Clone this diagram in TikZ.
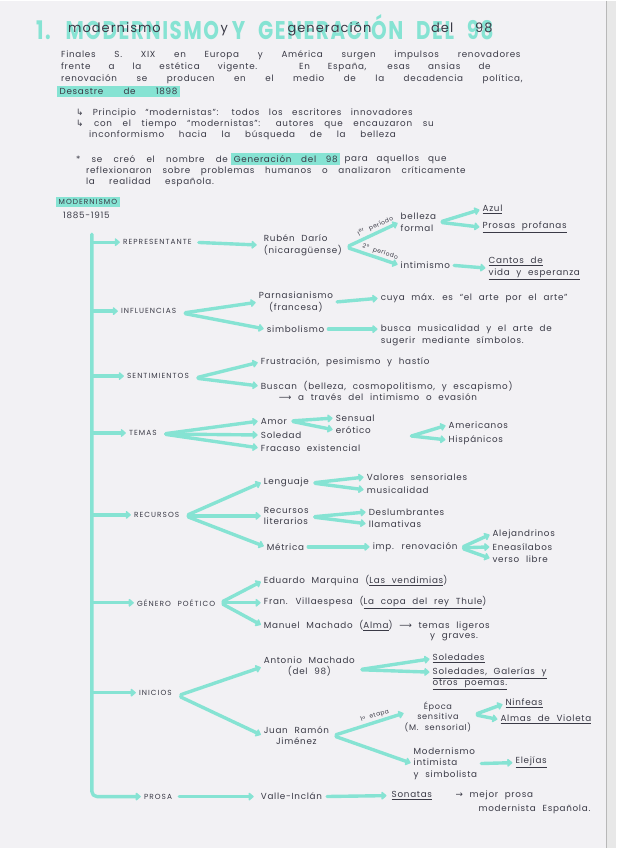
\documentclass[tikz,border=0pt]{standalone}
\usepackage{fontspec}
\setmainfont{Poppins}[LetterSpace=8,WordSpace=2.2]
\newfontfamily\symfont{DejaVu Sans}
\usetikzlibrary{positioning,arrows.meta,calc}
\definecolor{mint}{HTML}{86E3D3}
\definecolor{ink}{HTML}{3A3A46}
\definecolor{paper}{HTML}{F2F1F4}
\newcommand{\txt}{\fontsize{8.8}{11.5}\selectfont}
\newcommand{\capsfnt}{\fontsize{7.4}{8}\selectfont\addfontfeature{LetterSpace=14}}
\newcommand{\tinyfnt}{\fontsize{6}{6.5}\selectfont}
\newcommand{\spread}[2]{\makebox[#1][s]{#2}}

\begin{document}
\begin{tikzpicture}[
    x=1pt, y=-1pt,
    lab/.style={anchor=west, inner sep=1pt, font=\txt, text=ink},
    branchlab/.style={anchor=west, inner sep=1pt, font=\capsfnt, text=ink},
    hlbox/.style={lab, fill=mint, inner sep=2.5pt},
    hl/.style={line width=3.4pt, draw=mint, line cap=round, line join=round},
    hlarrow/.style={hl, -{Triangle[length=5.5pt,width=9pt,round]}, shorten >=2pt, shorten <=3pt},
    steplab/.style={pos=0.6, sloped, above, inner sep=1.5pt, font=\tinyfnt, text=ink}
]
    % Hoja de papel
    \fill[paper] (0,0) rectangle (617,848);
    \fill[black!9] (607,0) rectangle (617,848);
    \draw[black!28, line width=1pt] (607,0) -- (607,848);
    \useasboundingbox (0,0) rectangle (617,848);

    % Titulo
    \node[anchor=west, inner sep=0, text=mint] (title) at (36,27) {\resizebox{458pt}{25pt}{\bfseries 1. MODERNISMO Y GENERACIÓN DEL 98}};
    \node[anchor=west, inner sep=0, text=ink] (titleInk) at (68,29) {\fontsize{13}{14}\selectfont\spread{425pt}{modernismo y generación del\hspace{22pt}98}};

    % Introduccion
    \node[lab] (p1) at (60,55) {\spread{460pt}{Finales S. XIX en Europa y América surgen impulsos renovadores}};
    \node[lab] (p2) at (60,67) {\spread{430pt}{frente a la estética vigente. En España, esas ansias de}};
    \node[lab] (p3) at (60,79) {\spread{462pt}{renovación se producen en el medio de la decadencia política,}};
    \node[hlbox] (p4) at (57,91) {\spread{118pt}{Desastre de 1898}};

    \node[lab] (a1) at (75,113) {\spread{337pt}{{\symfont ↳} Principio “modernistas”: todos los escritores innovadores}};
    \node[lab] (a2) at (75,124) {\spread{358pt}{{\symfont ↳} con el tiempo “modernistas”: autores que encauzaron su}};
    \node[lab] (a3) at (88,135) {\spread{307pt}{inconformismo hacia la búsqueda de la belleza}};

    \node[lab] (s1) at (75,159) {\spread{152pt}{* se creó el nombre de}};
    \node[hlbox, right=2pt of s1] (gen98) {\spread{104pt}{Generación del 98}};
    \node[lab, right=3pt of gen98] (s1b) {\spread{102pt}{para aquellos que}};
    \node[lab] (s2) at (85,171) {\spread{380pt}{reflexionaron sobre problemas humanos o analizaron críticamente}};
    \node[lab] (s3) at (85,182) {\spread{128pt}{la realidad española.}};

    % Modernismo
    \node[hlbox, font=\capsfnt] (mod) at (56,202) {MODERNISMO};
    \node[lab] (years) at (62,215) {1885-1915};

    % Ramas principales
    \node[branchlab] (rep) at (122,242) {REPRESENTANTE};
    \node[branchlab] (inf) at (120,311) {INFLUENCIAS};
    \node[branchlab] (sent) at (126,376) {SENTIMIENTOS};
    \node[branchlab] (temas) at (128,433) {TEMAS};
    \node[branchlab] (rec) at (133,515) {RECURSOS};
    \node[branchlab] (gen) at (136,603) {GÉNERO POÉTICO};
    \node[branchlab] (ini) at (138,693) {INICIOS};
    \node[branchlab] (prosa) at (143,797) {PROSA};

    \coordinate (spTop) at (92,234);
    \coordinate (spBot) at (92,797);
    \draw[hl, rounded corners=5pt, -{Triangle[length=5.5pt,width=9pt,round]}, shorten >=2pt] (spTop) -- (spBot) -- (prosa.west);
    \foreach \b in {rep,inf,sent,temas,rec,gen,ini}
        \draw[hlarrow, shorten <=0pt] (spTop |- \b.west) -- (\b.west);

    % Representante
    \node[lab, align=left] (ruben) at (263,245) {Rubén Darío\\(nicaragüense)};
    \draw[hlarrow, shorten <=6pt, shorten >=6pt] (rep.east) -- (ruben.west);
    \coordinate (fRub) at ($(ruben.east)+(3,2)$);
    \node[lab, align=left] (belleza) at (400,222) {belleza\\formal};
    \node[lab] (intim) at (400,265) {intimismo};
    \draw[hlarrow] (fRub) -- (belleza.west) node[steplab] {1\textsuperscript{er} período};
    \draw[hlarrow] (fRub) -- (intim.west) node[steplab] {2º período};
    \node[lab] (azul) at (482,209) {\underline{Azul}};
    \node[lab] (prosas) at (482,227) {\underline{Prosas profanas}};
    \coordinate (fBel) at ($(belleza.east)+(2,0)$);
    \draw[hlarrow] (fBel) -- (azul.west);
    \draw[hlarrow] (fBel) -- (prosas.west);
    \node[lab, align=left] (cantos) at (488,268) {\underline{Cantos de}\\\underline{vida y esperanza}};
    \draw[hlarrow] (intim.east) -- (cantos.west);

    % Influencias
    \coordinate (fInf) at ($(inf.east)+(5,2)$);
    \node[lab, align=center] (parn) at (258,302) {Parnasianismo\\(francesa)};
    \node[lab] (simb) at (266,329) {simbolismo};
    \draw[hlarrow] (fInf) -- (parn.west);
    \draw[hlarrow] (fInf) -- (simb.west);
    \node[lab] (cuya) at (380,298) {cuya máx. es “el arte por el arte”};
    \node[lab, align=left] (busca) at (380,335) {busca musicalidad y el arte de\\sugerir mediante símbolos.};
    \draw[hlarrow] (parn.east) -- (cuya.west);
    \draw[hlarrow] (simb.east) -- (simb.east -| busca.west);

    % Sentimientos
    \coordinate (fSent) at ($(sent.east)+(5,2)$);
    \node[lab] (frus) at (260,362) {Frustración, pesimismo y hastío};
    \node[lab] (buscan) at (260,386) {Buscan (belleza, cosmopolitismo, y escapismo)};
    \node[lab] (atraves) at (278,397) {{\symfont ⟶} a través del intimismo o evasión};
    \draw[hlarrow] (fSent) -- (frus.west);
    \draw[hlarrow] (fSent) -- (buscan.west);

    % Temas
    \coordinate (fTem) at ($(temas.east)+(5,1)$);
    \node[lab] (amor) at (260,421) {Amor};
    \node[lab] (soledad) at (260,435) {Soledad};
    \node[lab] (fracaso) at (260,448) {Fracaso existencial};
    \foreach \t in {amor,soledad,fracaso}
        \draw[hlarrow] (fTem) -- (\t.west);
    \node[lab] (sensual) at (335,418) {Sensual};
    \node[lab] (erotico) at (335,430) {erótico};
    \coordinate (fAmor) at ($(amor.east)+(2,0)$);
    \draw[hlarrow] (fAmor) -- (sensual.west);
    \draw[hlarrow] (fAmor) -- (erotico.west);
    \coordinate (fAm) at (412,436);
    \node[lab] (americ) at (448,425) {Americanos};
    \node[lab] (hispan) at (448,440) {Hispánicos};
    \draw[hlarrow, shorten <=0pt] (fAm) -- (americ.west);
    \draw[hlarrow, shorten <=0pt] (fAm) -- (hispan.west);

    % Recursos
    \coordinate (fRec) at ($(rec.east)+(5,1)$);
    \node[lab] (lenguaje) at (263,482) {Lenguaje};
    \node[lab, align=left] (reclit) at (263,516) {Recursos\\literarios};
    \node[lab] (metrica) at (266,547) {Métrica};
    \foreach \t in {lenguaje,reclit,metrica}
        \draw[hlarrow] (fRec) -- (\t.west);
    \node[lab] (valores) at (366,477) {Valores sensoriales};
    \node[lab] (musical) at (366,490) {musicalidad};
    \coordinate (fLen) at ($(lenguaje.east)+(2,1)$);
    \draw[hlarrow] (fLen) -- (valores.west);
    \draw[hlarrow] (fLen) -- (musical.west);
    \node[lab] (deslum) at (368,512) {Deslumbrantes};
    \node[lab] (llamat) at (368,524) {llamativas};
    \coordinate (fLit) at ($(reclit.east)+(2,1)$);
    \draw[hlarrow] (fLit) -- (deslum.west);
    \draw[hlarrow] (fLit) -- (llamat.west);
    \node[lab] (imp) at (372,547) {imp. renovación};
    \draw[hlarrow] (metrica.east) -- (imp.west);
    \coordinate (fImp) at ($(imp.east)+(2,1)$);
    \node[lab] (alej) at (492,534) {Alejandrinos};
    \node[lab] (enea) at (492,547) {Eneasílabos};
    \node[lab] (verso) at (492,559) {verso libre};
    \foreach \t in {alej,enea,verso}
        \draw[hlarrow] (fImp) -- (\t.west);

    % Genero poetico
    \coordinate (fGen) at ($(gen.east)+(4,0)$);
    \node[lab] (marq) at (263,581) {Eduardo Marquina (\underline{Las vendimias})};
    \node[lab] (vill) at (263,603) {Fran. Villaespesa (\underline{La copa del rey Thule})};
    \node[lab] (mach) at (263,626) {Manuel Machado (\underline{Alma}) {\symfont ⟶} temas ligeros};
    \node[lab, anchor=north west] (graves) at ($(mach.south east)+(-62,0)$) {y graves.};
    \foreach \t in {marq,vill,mach}
        \draw[hlarrow] (fGen) -- (\t.west);

    % Inicios
    \coordinate (fIni) at ($(ini.east)+(5,3)$);
    \node[lab, align=center] (amach) at (263,667) {Antonio Machado\\(del 98)};
    \node[lab, align=center] (jrj) at (263,736) {Juan Ramón\\Jiménez};
    \draw[hlarrow] (fIni) -- (amach.west);
    \draw[hlarrow] (fIni) -- (jrj.west);
    \node[lab] (sol1) at (432,659) {\underline{Soledades}};
    \node[lab, align=left] (sol2) at (432,679) {\underline{Soledades, Galerías y}\\\underline{otros poemas.}};
    \coordinate (fAnt) at ($(amach.east)+(3,3)$);
    \draw[hlarrow] (fAnt) -- (sol1.west);
    \draw[hlarrow] (fAnt) -- ($(sol2.north west)+(0,6)$);
    \coordinate (fJrj) at ($(jrj.east)+(3,0)$);
    \node[lab, align=center, font=\fontsize{8.2}{10.5}\selectfont] (epoca) at (404,717) {Época\\sensitiva\\(M. sensorial)};
    \node[lab, align=left] (modint) at (413,764) {Modernismo\\intimista\\y simbolista};
    \draw[hlarrow] (fJrj) -- ($(epoca.west)+(2,-4)$) node[steplab] {1ª etapa};
    \draw[hlarrow] (fJrj) -- (modint.west);
    \node[lab] (ninfeas) at (505,704) {\underline{Ninfeas}};
    \node[lab] (almas) at (500,720) {\underline{Almas de Violeta}};
    \coordinate (fEpo) at ($(epoca.east)+(2,-2)$);
    \draw[hlarrow] (fEpo) -- (ninfeas.west);
    \draw[hlarrow] (fEpo) -- (almas.west);
    \node[lab] (elejias) at (515,763) {\underline{Elejías}};
    \draw[hlarrow] (modint.east) -- (elejias.west);

    % Prosa
    \node[lab] (valle) at (260,797) {Valle-Inclán};
    \node[lab] (sonatas) at (391,796) {\underline{Sonatas}};
    \node[lab] (mejor) at (455,796) {{\symfont →} mejor prosa};
    \node[lab] (modesp) at (478,810) {modernista Española.};
    \draw[hlarrow, shorten <=6pt, shorten >=6pt] (prosa.east) -- (valle.west);
    \draw[hlarrow, shorten <=4pt, shorten >=4pt] (valle.east) -- (sonatas.west);
\end{tikzpicture}
\end{document}
